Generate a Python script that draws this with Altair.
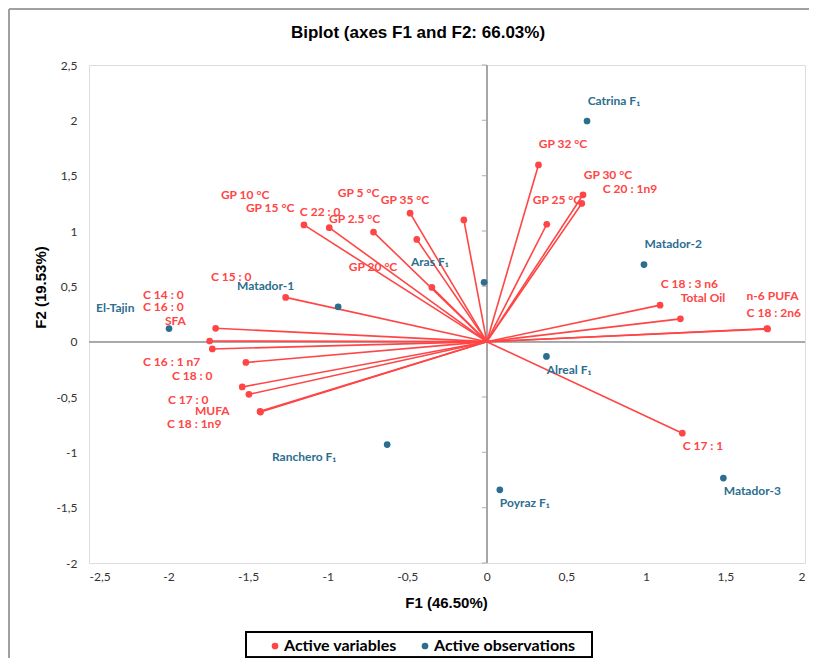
import altair as alt
import pandas as pd

# ---------------- data ----------------
var_names = ["C 14 : 0", "C 16 : 0", "SFA", "C 15 : 0",
             "GP 10 °C", "GP 15 °C", "C 22 : 0", "GP 5 °C", "GP 35 °C", "GP 2.5 °C", "GP 20 °C",
             "C 16 : 1 n7", "C 18 : 0", "C 17 : 0", "MUFA", "C 18 : 1n9",
             "GP 32 °C", "GP 25 °C", "GP 30 °C", "C 20 : 1n9",
             "C 18 : 3 n6", "Total Oil", "n-6 PUFA", "C 18 : 2n6", "C 17 : 1"]
var_x = [-1.704, -1.742, -1.725, -1.264,
         -1.149, -0.990, -0.712, -0.144, -0.482, -0.440, -0.345,
         -1.514, -1.537, -1.495, -1.422, -1.425,
         0.325, 0.377, 0.605, 0.597,
         1.089, 1.217, 1.761, 1.765, 1.229]
var_y = [0.121, 0.006, -0.066, 0.400,
         1.055, 1.030, 0.990, 1.100, 1.161, 0.924, 0.490,
         -0.188, -0.409, -0.476, -0.636, -0.630,
         1.597, 1.061, 1.327, 1.249,
         0.330, 0.206, 0.118, 0.115, -0.827]
var_label_x = [-2.161, -2.161, -2.023, -1.734,
               -1.671, -1.514, -1.175, -0.936, -0.666, -0.992, -0.867,
               -2.161, -1.979, -2.004, -1.834, -2.010,
               0.327, 0.289, 0.609, 0.729,
               1.093, 1.219, 1.633, 1.633, 1.231]
var_label_y = [0.418, 0.309, 0.191, 0.582,
               1.327, 1.209, 1.173, 1.345, 1.282, 1.109, 0.673,
               -0.182, -0.309, -0.527, -0.627, -0.745,
               1.782, 1.282, 1.509, 1.382,
               0.518, 0.391, 0.409, 0.255, -0.945]

obs_names = ["Catrina F₁", "Matador-2", "Aras F₁", "Matador-1", "El-Tajin",
             "Ranchero F₁", "Alreal F₁", "Poyraz F₁", "Matador-3"]
obs_x = [0.630, 0.988, -0.017, -0.934, -1.997, -0.626, 0.375, 0.082, 1.487]
obs_y = [1.994, 0.697, 0.536, 0.315, 0.118, -0.930, -0.133, -1.339, -1.233]
obs_label_x = [0.634, 0.992, -0.477, -1.570, -2.456, -1.350, 0.377, 0.082, 1.489]
obs_label_y = [2.173, 0.882, 0.718, 0.500, 0.300, -1.045, -0.255, -1.455, -1.345]

x_ticks = [-2.5, -2, -1.5, -1, -0.5, 0, 0.5, 1, 1.5, 2]
y_ticks = [-2, -1.5, -1, -0.5, 0, 0.5, 1, 1.5, 2, 2.5]

legend_labels = ["Active variables", "Active observations"]

# ---------------- style ----------------
RED = "#FF4545"
BLUE = "#2B6E8F"
W, H = 716, 498
LBL_FONT = "Lato"

vars_df = pd.DataFrame({"name": var_names, "x": var_x, "y": var_y,
                        "x0": [0.0] * len(var_x), "y0": [0.0] * len(var_y),
                        "type": legend_labels[0]})
vlab_df = pd.DataFrame({"name": var_names, "x": var_label_x, "y": var_label_y})
obs_df = pd.DataFrame({"name": obs_names, "x": obs_x, "y": obs_y, "type": legend_labels[1]})
olab_df = pd.DataFrame({"name": obs_names, "x": obs_label_x, "y": obs_label_y})
pts_df = pd.concat([vars_df[["name", "x", "y", "type"]], obs_df], ignore_index=True)
yt_df = pd.DataFrame({"y": y_ticks})

xs = alt.Scale(domain=[-2.5, 2], nice=False, zero=False)
ys = alt.Scale(domain=[-2, 2.5], nice=False, zero=False)

lab_expr = "replace(toString(datum.value), '.', ',')"
xaxis = alt.Axis(values=x_ticks, labelExpr=lab_expr, ticks=False, tickSize=0, domain=False, grid=False,
                 labelFont=LBL_FONT, labelFontSize=12, labelColor="#333333", labelPadding=8,
                 title="F1 (46.50%)", titleFont="Liberation Sans", titleFontSize=15, titleFontWeight="bold",
                 titleColor="black", titleY=39, titleBaseline="middle", titleX=357)
yaxis = alt.Axis(values=y_ticks, labelExpr=lab_expr, ticks=False, tickSize=0, domain=False, grid=False,
                 labelFont=LBL_FONT, labelFontSize=12, labelColor="#333333", labelPadding=12,
                 title="F2 (19.53%)", titleFont="Liberation Sans", titleFontSize=15, titleFontWeight="bold",
                 titleColor="black", titleX=-49, titleY=222, titleAlign="center", titleBaseline="middle",
                 titleAngle=-90)


def X(field="x"):
    return alt.X(f"{field}:Q", scale=xs, axis=xaxis)


def Y(field="y"):
    return alt.Y(f"{field}:Q", scale=ys, axis=yaxis)


# frame lines and legend box (decoration)
frame_left = alt.Chart(yt_df).mark_rule(color="#A0A0A0", strokeWidth=1.5).encode(
    x=alt.value(-80), y=alt.value(-56), y2=alt.value(H + 120))
frame_top = alt.Chart(yt_df).mark_rule(color="#A0A0A0", strokeWidth=1.5).encode(
    x=alt.value(-80), x2=alt.value(W + 20), y=alt.value(-56))
legend_box = alt.Chart(yt_df).mark_rect(fill=None, stroke="black", strokeWidth=1.2).encode(
    x=alt.value(157), x2=alt.value(503), y=alt.value(567), y2=alt.value(592.3))

# zero lines
vzero = alt.Chart(yt_df).mark_rule(color="#A6A6A6", strokeWidth=1.3).encode(
    x=alt.X(datum=0, scale=xs, axis=xaxis), y=alt.value(0), y2=alt.value(H))
hzero = alt.Chart(yt_df).mark_rule(color="#A6A6A6", strokeWidth=1.3).encode(
    y=alt.Y(datum=0, scale=ys, axis=yaxis), x=alt.value(0), x2=alt.value(W))
vticks = alt.Chart(yt_df).mark_tick(color="#A6A6A6", orient="horizontal", size=5, thickness=1.3,
                                    xOffset=-2.5).encode(
    x=alt.X(datum=0, scale=xs, axis=xaxis), y=Y("y"))

# vectors
vectors = alt.Chart(vars_df).mark_rule(color=RED, strokeWidth=1.6).encode(
    x=X("x0"), y=Y("y0"), x2="x:Q", y2="y:Q")

points = alt.Chart(pts_df).mark_point(filled=True, opacity=1, size=45, shape="circle").encode(
    x=X("x"), y=Y("y"),
    color=alt.Color("type:N", scale=alt.Scale(domain=legend_labels, range=[RED, BLUE]),
                    legend=alt.Legend(orient="none", legendX=178, legendY=573, direction="horizontal",
                                      title=None, padding=0, symbolType="circle", gridAlign="none",
                                      symbolSize=45, labelFont=LBL_FONT, labelFontSize=16,
                                      labelFontWeight="bold", labelColor="black", columnPadding=20,
                                      symbolOffset=0, labelOffset=1)))

vtext = alt.Chart(vlab_df).mark_text(align="left", baseline="middle", color=RED, font=LBL_FONT,
                                     fontSize=12, fontWeight="bold").encode(
    x=X("x"), y=Y("y"), text="name:N")
otext = alt.Chart(olab_df).mark_text(align="left", baseline="middle", color=BLUE, font=LBL_FONT,
                                     fontSize=12, fontWeight="bold").encode(
    x=X("x"), y=Y("y"), text="name:N")

chart = alt.layer(frame_left, frame_top, legend_box, hzero, vzero, vticks, vectors, points,
                  vtext, otext).properties(
    width=W, height=H,
    title=alt.TitleParams("Biplot (axes F1 and F2: 66.03%)", font="Liberation Sans", fontSize=17,
                          fontWeight="bold", color="black", anchor="middle", dx=-29, offset=0, dy=42,
                          baseline="middle", frame="group"),
    autosize=alt.AutoSizeParams(type="none"),
    padding={"left": 81, "top": 57, "right": 4, "bottom": 95},
).configure_view(stroke="#D4D4D4", strokeWidth=1.5).configure(background="white")

chart.save("out.html", embed_options={"renderer": "svg", "actions": False})
